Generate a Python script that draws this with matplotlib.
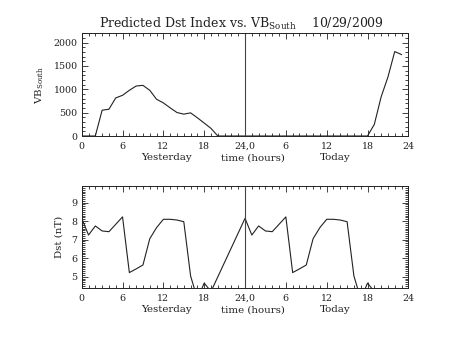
import numpy as np
import matplotlib
matplotlib.use('Agg')
from matplotlib import pyplot as plt
from matplotlib.ticker import MultipleLocator, FixedLocator

# Hourly VB_South for yesterday and today.
hours = list(range(24))
vb_yesterday = [0, 0, 0, 553, 574, 816, 872, 979, 1071, 1085, 979, 787,
                709, 603, 503, 468, 496, 390, 277, 163, 0, 0, 0, 0]
vb_today = [0, 0, 0, 0, 0, 0, 0, 0, 0, 0, 0, 0,
            0, 0, 0, 0, 0, 0, 0, 248, 837, 1262, 1809, 1745]

# Predicted Dst, hours 0-19 of each day (20-23 missing).
dst_hours = list(range(20))
dst_yesterday = [8.15, 7.25, 7.74, 7.47, 7.43, 7.83, 8.23, 5.22, 5.42, 5.63,
                 7.05, 7.65, 8.10, 8.10, 8.06, 7.97, 5.04, 3.80, 4.65, 4.20]
dst_today = [8.15, 7.25, 7.74, 7.47, 7.43, 7.83, 8.23, 5.22, 5.42, 5.63,
             7.05, 7.65, 8.10, 8.10, 8.06, 7.97, 5.04, 3.80, 4.65, 4.20]

xtick_pos = [0, 6, 12, 18, 24, 30, 36, 42, 48]
xtick_labels = ['0', '6', '12', '18', '24,0', '6', '12', '18', '24']

plt.rcParams['font.family'] = 'DejaVu Serif'
plt.rcParams['mathtext.fontset'] = 'dejavuserif'
ink = '#222222'

fig = plt.figure(figsize=(4.53, 3.4), dpi=100)
ax1 = fig.add_axes([0.1804, 0.6, 0.721, 0.302])
ax2 = fig.add_axes([0.1804, 0.152, 0.721, 0.301])

x_vb = hours + [24 + h for h in hours]
ax1.plot(x_vb, vb_yesterday + vb_today, color=ink, lw=0.8, clip_on=True)
x_dst = dst_hours + [24 + h for h in dst_hours]
ax2.plot(x_dst, dst_yesterday + dst_today, color=ink, lw=0.8)

for ax in (ax1, ax2):
    ax.axvline(24, color='#444444', lw=0.8)
    ax.set_xlim(0, 48)
    ax.xaxis.set_major_locator(FixedLocator(xtick_pos))
    ax.set_xticklabels(xtick_labels)
    ax.xaxis.set_minor_locator(MultipleLocator(1))
    ax.tick_params(which='both', direction='in', top=True, right=True,
                   color=ink, labelsize=6.8, labelcolor=ink, width=0.6)
    ax.tick_params(axis='x', which='major', length=4, pad=4)
    ax.tick_params(axis='y', which='major', length=4, pad=3)
    ax.tick_params(which='minor', length=2)
    for s in ax.spines.values():
        s.set_color(ink)
        s.set_linewidth(0.7)
    # day / axis titles under the x axis
    tr = ax.get_xaxis_transform()
    ax.text(12.4, -0.21, 'Yesterday', transform=tr, ha='center', va='center',
            fontsize=7.4, color=ink)
    ax.text(25.2, -0.21, 'time (hours)', transform=tr, ha='center', va='center',
            fontsize=7.4, color=ink)
    ax.text(37.2, -0.21, 'Today', transform=tr, ha='center', va='center',
            fontsize=7.4, color=ink)

ax1.set_ylim(0, 2200)
ax1.yaxis.set_major_locator(MultipleLocator(500))
ax1.yaxis.set_minor_locator(MultipleLocator(100))
ax1.set_ylabel(r'VB$_{\rm South}$', fontsize=7.4, color=ink, labelpad=5)

ax2.set_ylim(4.37, 9.9)
ax2.yaxis.set_major_locator(MultipleLocator(1))
ax2.yaxis.set_minor_locator(MultipleLocator(0.1))
ax2.set_ylabel('Dst (nT)', fontsize=7.4, color=ink, labelpad=6)

fig.text(0.532, 0.918, r'Predicted Dst Index vs. VB$_{\rm South}$    10/29/2009',
         ha='center', va='baseline', fontsize=9, color=ink)

fig.savefig('out.png', dpi=100)
